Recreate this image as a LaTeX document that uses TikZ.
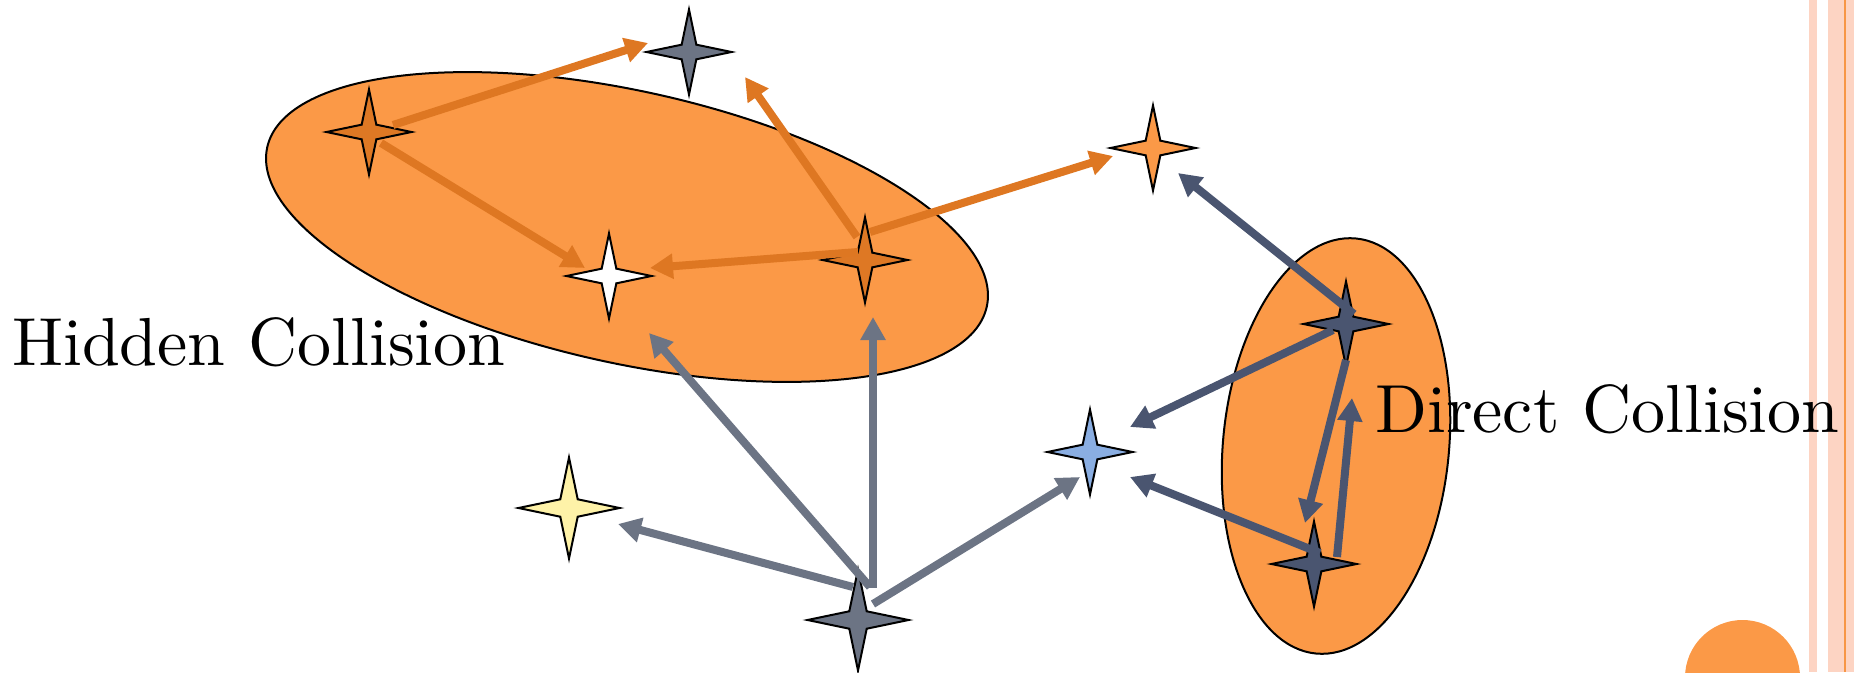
\documentclass[tikz,border=0pt]{standalone}
\usepackage{fontspec}
\newfontfamily\lmten[Extension=.otf]{lmroman10-regular}
\usetikzlibrary{shapes.geometric,arrows.meta}
\definecolor{ellfill}{HTML}{FB9947}
\definecolor{oarrc}{HTML}{DE7722}
\definecolor{garrc}{HTML}{6C7484}
\definecolor{darrc}{HTML}{4A5570}
\definecolor{stargray}{HTML}{6C7484}
\definecolor{starorange}{HTML}{DE7824}
\definecolor{starlight}{HTML}{FB9947}
\definecolor{starslate}{HTML}{4A5570}
\definecolor{starblue}{HTML}{8AAEE2}
\definecolor{staryellow}{HTML}{FEF2A8}
\definecolor{stripepink}{HTML}{FDD4C3}
\definecolor{stripeorange}{HTML}{F79646}
\tikzset{
  star4/.style={star, star points=4, star point ratio=4.1, inner sep=0pt,
    minimum size=85pt, draw=black, line width=2pt},
  bigstar/.style={star4, minimum size=101pt},
  arrbase/.style={line width=8pt, -{Triangle[length=23pt,width=24pt]}},
  oarr/.style={arrbase, draw=oarrc},
  garr/.style={arrbase, draw=garrc},
  darr/.style={arrbase, draw=darrc},
  blob/.style={fill=ellfill, draw=black, line width=2pt},
  lbl/.style={anchor=base west, inner sep=0pt, font=\lmten\fontsize{68}{80}\selectfont}
}
\begin{document}
\begin{tikzpicture}[x=1pt,y=1pt]
\useasboundingbox (0,0) rectangle (1854,-672);
% page decoration
\fill[stripepink] (1809,0) rectangle (1817,-672);
\fill[stripepink] (1828,0) rectangle (1854,-672);
\fill[stripeorange] (1844,0) rectangle (1846,-672);
\fill[starlight] (1742.5,-677.5) circle (57.5);
% groups
\draw[blob] (627,-227) ellipse [x radius=368.5, y radius=136, rotate=-12.5];
\draw[blob] (1336,-446) ellipse [x radius=113, y radius=208.5, rotate=-5.5];
% stars
\node[star4, fill=stargray]    (gS1) at (689,-52)  {};
\node[star4, fill=starorange]  (oL)  at (369,-132) {};
\node[star4, fill=white]       (wS)  at (609,-276) {};
\node[star4, fill=starorange]  (oM)  at (865,-260) {};
\node[star4, fill=starlight]   (oT)  at (1153,-148) {};
\node[star4, fill=starslate]   (dT)  at (1346,-324) {};
\node[star4, fill=starslate]   (dB)  at (1314,-564) {};
\node[star4, fill=starblue]    (bS)  at (1090,-452) {};
\node[bigstar, fill=staryellow](yS)  at (569,-508) {};
\node[bigstar, fill=stargray]  (gB)  at (858,-620) {};
\coordinate (a3end) at (745,-77);
% orange arrows
\draw[oarr] ([shift={(24,7)}]oL.center) -- ([shift={(-41,9)}]gS1.center);
\draw[oarr] ([shift={(12,-11)}]oL.center) -- ([shift={(-24,8)}]wS.center);
\draw[oarr] ([shift={(-8,23)}]oM.center) -- (a3end);
\draw[oarr] ([shift={(5,28)}]oM.center) -- ([shift={(-40,-8)}]oT.center);
\draw[oarr] ([shift={(-7,8)}]oM.center) -- ([shift={(41,8)}]wS.center);
% gray arrows
\draw[garr] ([shift={(12,33)}]gB.center) -- ([shift={(40,-57)}]wS.center);
\draw[garr] ([shift={(15,32)}]gB.center) -- ([shift={(8,-57)}]oM.center);
\draw[garr] ([shift={(-5,33)}]gB.center) -- ([shift={(49,-16)}]yS.center);
\draw[garr] ([shift={(15,16)}]gB.center) -- ([shift={(-10,-25)}]bS.center);
% dark arrows
\draw[darr] ([shift={(8,10)}]dT.center) -- ([shift={(25,-25)}]oT.center);
\draw[darr] ([shift={(-13,-6)}]dT.center) -- ([shift={(40,25)}]bS.center);
\draw[darr] ([shift={(0,-36)}]dT.center) -- ([shift={(-9,41)}]dB.center);
\draw[darr] ([shift={(23,7)}]dB.center) -- ([shift={(6,-74)}]dT.center);
\draw[darr] ([shift={(6,11)}]dB.center) -- ([shift={(40,-25)}]bS.center);
% labels
\node[lbl] (hid) at (12,-365) {Hidden Collision};
\node[lbl] (dir) at (1375,-432) {Direct Collision};
\end{tikzpicture}
\end{document}
